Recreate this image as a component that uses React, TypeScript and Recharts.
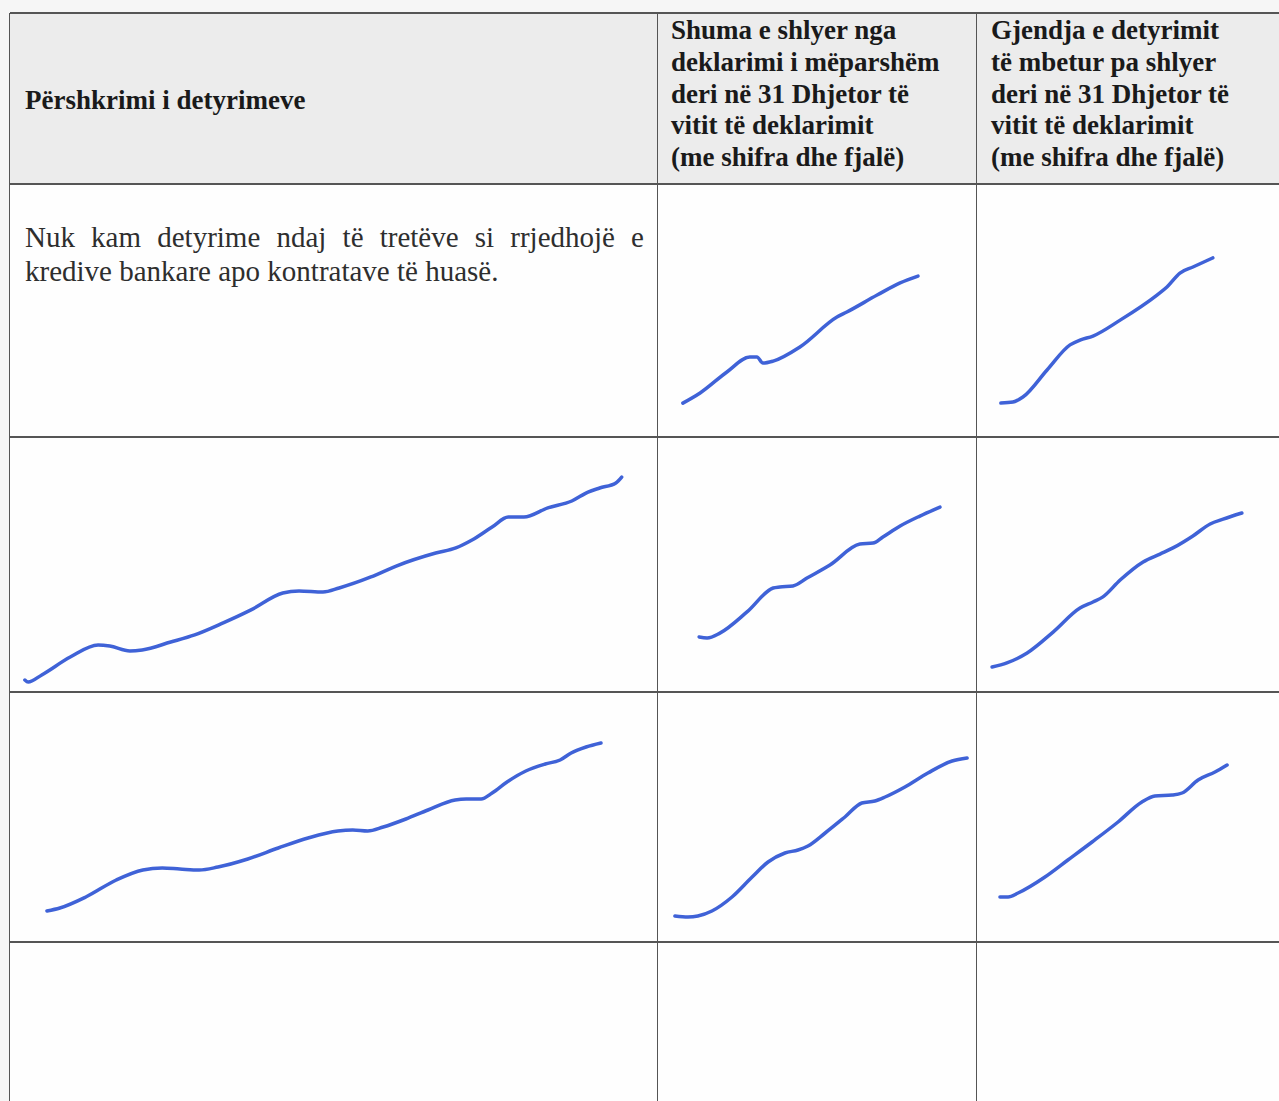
import React from "react";
import { LineChart, Line, XAxis, YAxis } from "recharts";

// hand-drawn strokes: x = % across the cell, y = % up from the cell bottom
const r1c2X = [7.8, 13.2, 21.6, 28.8, 31.0, 32.9, 36.1, 44.5, 56.1, 59.2, 68.7, 75.9, 81.5];
const r1c2Y = [13.4, 17.4, 25.7, 31.6, 31.6, 29.2, 30.0, 35.6, 47.4, 49.4, 56.1, 60.9, 63.6];

const r1c3X = [7.9, 11.9, 15.2, 23.2, 30.8, 34.1, 38.4, 47.4, 59.6, 62.9, 67.2, 71.5, 78.1];
const r1c3Y = [13.4, 13.8, 15.8, 26.5, 36.4, 38.3, 39.9, 46.2, 56.1, 59.3, 64.8, 67.2, 70.8];

const r2c1X = [2.3, 2.8, 4.9, 9.3, 13.6, 15.4, 18.5, 20.4, 24.8, 28.5, 32.9, 37.2, 42.1, 44.6, 48.3, 50.8, 55.7, 59.6, 65.7, 68.8, 71.3, 74.4, 76.9, 79.3, 83.0, 86.7, 89.2, 91.0, 93.5, 94.4];
const r2c1Y = [4.7, 3.9, 6.7, 13.7, 18.4, 18.0, 16.1, 16.5, 19.6, 22.4, 27.1, 32.2, 38.8, 39.6, 39.2, 40.8, 45.1, 49.4, 54.5, 56.5, 59.6, 64.7, 68.6, 68.6, 72.2, 74.9, 78.4, 80.0, 82.0, 84.3];

const r2c2X = [12.9, 15.4, 19.4, 27.9, 36.1, 38.2, 42.3, 46.7, 53.9, 63.3, 67.4, 70.5, 75.9, 82.1, 88.4];
const r2c2Y = [21.6, 21.2, 23.1, 31.4, 40.8, 41.2, 41.6, 44.7, 49.8, 58.0, 58.4, 60.8, 65.1, 69.0, 72.5];

const r2c3X = [5.0, 9.9, 16.6, 25.2, 34.1, 38.4, 41.7, 47.4, 55.0, 60.6, 64.9, 71.5, 77.2, 81.5, 87.7];
const r2c3Y = [9.8, 11.4, 15.3, 23.5, 32.9, 35.3, 37.3, 43.9, 51.0, 54.1, 56.5, 61.2, 65.9, 67.8, 70.2];

const r3c1X = [5.7, 7.7, 11.7, 16.4, 20.5, 23.5, 26.2, 29.2, 32.1, 36.7, 41.4, 46.0, 50.6, 52.9, 55.2, 57.6, 61.1, 64.5, 68.7, 70.4, 72.7, 74.4, 76.7, 79.6, 82.6, 84.9, 86.6, 88.9, 91.2];
const r3c1Y = [12.4, 13.6, 18.0, 24.8, 28.8, 29.6, 29.2, 28.8, 30.0, 33.2, 37.6, 41.6, 44.4, 44.8, 44.4, 46.0, 49.2, 52.8, 56.8, 57.2, 57.2, 59.6, 64.0, 68.4, 71.2, 72.8, 75.6, 78.0, 79.6];

const r3c2X = [5.3, 9.4, 12.5, 16.9, 23.2, 29.5, 34.5, 39.8, 43.9, 47.0, 52.4, 58.6, 63.9, 68.0, 71.2, 77.4, 84.6, 92.2, 96.9];
const r3c2Y = [10.4, 10.0, 10.4, 12.4, 18.0, 26.0, 32.0, 35.6, 36.8, 38.4, 43.6, 50.0, 55.6, 56.4, 58.0, 62.0, 67.6, 72.4, 73.6];

const r3c3X = [7.6, 10.3, 13.6, 22.5, 30.1, 38.1, 46.7, 54.6, 58.9, 64.6, 67.9, 73.2, 78.8, 82.8];
const r3c3Y = [18.0, 18.0, 19.6, 26.0, 32.8, 40.0, 48.0, 56.0, 58.4, 58.8, 59.6, 64.8, 68.0, 70.8];

const headCol1 = "Përshkrimi i detyrimeve";
const headCol2 = ["Shuma e shlyer nga", "deklarimi i mëparshëm", "deri në 31 Dhjetor të", "vitit të deklarimit", "(me shifra dhe fjalë)"];
const headCol3 = ["Gjendja e detyrimit", "të mbetur pa shlyer", "deri në 31 Dhjetor të", "vitit të deklarimit", "(me shifra dhe fjalë)"];
const bodyText = ["Nuk kam detyrime ndaj të tretëve si rrjedhojë e", "kredive bankare apo kontratave të huasë."];

const COLS = [10, 658, 977, 1279];
const ROWS = [13, 184, 437, 692, 942, 1101];
const INK = "#3f62d7";
const RULE = "#555555";
const SERIF = '"Liberation Serif", "Times New Roman", serif';

const zip = (xs: number[], ys: number[]) => xs.map((x, i) => ({ x, y: ys[i] }));

const strokes = [
  { row: 1, col: 1, data: zip(r1c2X, r1c2Y) },
  { row: 1, col: 2, data: zip(r1c3X, r1c3Y) },
  { row: 2, col: 0, data: zip(r2c1X, r2c1Y) },
  { row: 2, col: 1, data: zip(r2c2X, r2c2Y) },
  { row: 2, col: 2, data: zip(r2c3X, r2c3Y) },
  { row: 3, col: 0, data: zip(r3c1X, r3c1Y) },
  { row: 3, col: 1, data: zip(r3c2X, r3c2Y) },
  { row: 3, col: 2, data: zip(r3c3X, r3c3Y) },
];

function TextLine({ x, baseline, size, bold, children, width }: {
  x: number; baseline: number; size: number; bold?: boolean; children: string; width?: number;
}) {
  return (
    <div
      style={{
        position: "absolute",
        left: x,
        top: baseline - 0.8375 * size,
        width,
        fontFamily: SERIF,
        fontSize: size,
        lineHeight: `${size}px`,
        fontWeight: bold ? 700 : 400,
        color: bold ? "#1a1a1a" : "#2e2e2e",
        whiteSpace: "nowrap",
        textAlign: width ? "justify" : "left",
        textAlignLast: width ? "justify" : "auto",
      }}
    >
      {children}
    </div>
  );
}

function HandStroke({ left, top, width, height, data }: {
  left: number; top: number; width: number; height: number; data: { x: number; y: number }[];
}) {
  return (
    <div style={{ position: "absolute", left, top }}>
      <LineChart width={width} height={height} data={data} margin={{ top: 0, right: 0, bottom: 0, left: 0 }}>
        <XAxis type="number" dataKey="x" domain={[0, 100]} hide />
        <YAxis type="number" domain={[0, 100]} hide />
        <Line
          type="monotone"
          dataKey="y"
          stroke={INK}
          strokeWidth={3.5}
          strokeLinecap="round"
          strokeLinejoin="round"
          dot={false}
          isAnimationActive={false}
        />
      </LineChart>
    </div>
  );
}

export default function App() {
  const rules: React.CSSProperties[] = [];
  // horizontal rules
  ROWS.slice(0, 5).forEach((y) =>
    rules.push({ left: COLS[0], top: y - 1, width: 1279 - COLS[0], height: 1.6 })
  );
  // vertical rules
  [COLS[0], COLS[1], COLS[2]].forEach((x) =>
    rules.push({ left: x - 1, top: ROWS[0], width: 1.4, height: 1101 - ROWS[0] })
  );

  return (
    <div style={{ position: "absolute", left: 0, top: 0, width: 1279, height: 1101, background: "#f6f6f6", overflow: "hidden" }}>
      {/* header band */}
      <div style={{ position: "absolute", left: COLS[0], top: ROWS[0], width: 1279 - COLS[0], height: ROWS[1] - ROWS[0], background: "#ececec" }} />
      {/* body cells */}
      <div style={{ position: "absolute", left: COLS[0], top: ROWS[1], width: 1279 - COLS[0], height: 1101 - ROWS[1], background: "#fefefe" }} />

      {rules.map((s, i) => (
        <div key={i} style={{ position: "absolute", background: RULE, ...s }} />
      ))}

      <TextLine x={25} baseline={110} size={27} bold>{headCol1}</TextLine>
      {headCol2.map((t, i) => (
        <TextLine key={"a" + i} x={671} baseline={40 + i * 31.7} size={27} bold>{t}</TextLine>
      ))}
      {headCol3.map((t, i) => (
        <TextLine key={"b" + i} x={991} baseline={40 + i * 31.7} size={27} bold>{t}</TextLine>
      ))}
      <TextLine x={25} baseline={247} size={29} width={619}>{bodyText[0]}</TextLine>
      <TextLine x={25} baseline={281} size={29}>{bodyText[1]}</TextLine>

      {strokes.map((s, i) => (
        <HandStroke
          key={i}
          left={COLS[s.col]}
          top={ROWS[s.row]}
          width={COLS[s.col + 1] - COLS[s.col]}
          height={ROWS[s.row + 1] - ROWS[s.row]}
          data={s.data}
        />
      ))}
    </div>
  );
}
